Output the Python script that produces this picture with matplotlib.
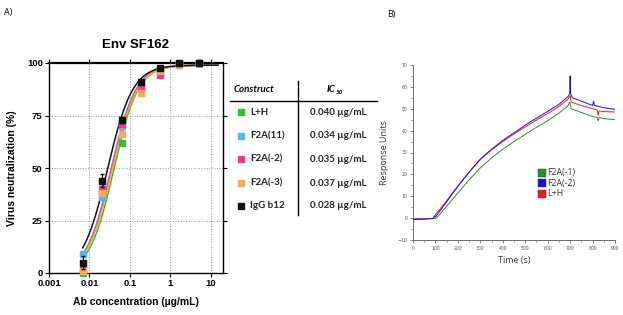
import numpy as np
import matplotlib
matplotlib.use("Agg")
import matplotlib.pyplot as plt
from matplotlib.lines import Line2D

# ---------------- Panel A data ----------------
conc = [0.0069, 0.0206, 0.062, 0.186, 0.56, 1.67, 5.0]
constructs = ["L+H", "F2A(11)", "F2A(-2)", "F2A(-3)", "IgG b12"]
neut_LH = [0, 37, 62, 88, 96, 99.5, 100]
neut_F2A11 = [9, 36, 70, 89, 97, 100, 100]
neut_F2Am2 = [2, 40, 71, 88, 94.5, 99.5, 100]
neut_F2Am3 = [1, 38, 66, 85.5, 96, 99, 100]
neut_IgG = [5, 44, 73, 91, 97.5, 100, 100]
err_IgG = [3, 3, 1.5, 1, 1, 0.5, 0]
ic50_vals = [0.040, 0.034, 0.035, 0.037, 0.028]
ic50_labels = ["0.040 µg/mL", "0.034 µg/mL", "0.035 µg/mL", "0.037 µg/mL", "0.028 µg/mL"]
hill_slopes = [1.45, 1.42, 1.42, 1.42, 1.40]
fit_top = 99.0
fit_bottom = 0.0
colors_A = ["#2fc22f", "#5ab4f0", "#ee3a8c", "#f7aa55", "#111111"]
xticks_A = [0.001, 0.01, 0.1, 1, 10]
xticklabels_A = ["0.001", "0.01", "0.1", "1", "10"]
yticks_A = [0, 25, 50, 75, 100]

# ---------------- Panel B data ----------------
t_F2Am1 = [0, 30, 60, 90, 105, 150, 200, 250, 300, 350, 400, 450, 500, 550, 600, 650,
           690, 698, 705, 750, 800, 820, 825, 830, 850, 900]
ru_F2Am1 = [-0.5, -0.4, -0.3, -0.2, 0, 5.5, 11.5, 17.5, 23, 27.5, 31.5, 35, 38.3, 41.5, 44.5, 48,
            51.3, 53, 50, 48.3, 46.5, 46, 44.5, 46, 45.5, 45]
t_F2Am2 = [0, 30, 60, 90, 95, 100, 150, 200, 250, 300, 350, 400, 450, 500, 550, 600, 650,
           690, 698, 700, 702, 710, 750, 800, 805, 808, 850, 900]
ru_F2Am2 = [-0.7, -0.5, -0.4, -0.2, 1, 0.5, 7.5, 14.5, 21, 27, 31.5, 35.5, 39, 42.5, 45.7, 48.8, 52,
            55.5, 57, 65, 57, 55, 53.5, 51.5, 53.5, 51.5, 50.5, 49.7]
t_LH = [0, 30, 60, 90, 100, 150, 200, 250, 300, 350, 400, 450, 500, 550, 600, 650,
        690, 700, 705, 750, 800, 820, 825, 828, 850, 900]
ru_LH = [-0.3, -0.3, -0.2, -0.1, 1.5, 8, 14.7, 21, 26.8, 31.2, 35, 38.5, 41.7, 44.8, 47.8, 51,
         54.3, 56, 53, 51.5, 50, 49.5, 47, 49, 48.7, 48.5]
series_B = ["F2A(-1)", "F2A(-2)", "L+H"]
colors_B = ["#2e8b2e", "#1414e0", "#e52020"]

W, H = 623, 315
fig = plt.figure(figsize=(W / 100, H / 100), dpi=100)

def fx(x):
    return x / W

def fy(y):
    return 1 - y / H

# ---------------- Panel A ----------------
axA = fig.add_axes([fx(49), fy(273), fx(223) - fx(49), fy(63) - fy(273)])
axA.set_xscale("log")
axA.set_xlim(0.001, 20)
axA.set_ylim(0, 100)
axA.grid(True, which="major", color="#999999", linestyle=":", linewidth=0.7)
axA.set_axisbelow(True)

xs = np.logspace(np.log10(0.0068), np.log10(15), 200)
all_neut = [neut_LH, neut_F2A11, neut_F2Am2, neut_F2Am3, neut_IgG]
for i in range(5):
    yfit = fit_bottom + (fit_top - fit_bottom) / (1 + (ic50_vals[i] / xs) ** hill_slopes[i])
    axA.plot(xs, yfit, color=colors_A[i], lw=1.1, zorder=3, clip_on=False)
for i in range(5):
    if i == 4:
        axA.errorbar(conc, all_neut[i], yerr=err_IgG, fmt="s", color=colors_A[i],
                     ms=4.5, capsize=1.5, elinewidth=0.8, zorder=5, clip_on=False)
    else:
        axA.plot(conc, all_neut[i], "s", color=colors_A[i], ms=4.5, zorder=4, clip_on=False)

axA.set_xticks(xticks_A)
axA.set_xticklabels(xticklabels_A)
axA.minorticks_off()
axA.set_yticks(yticks_A)
axA.tick_params(axis="both", which="major", direction="out", length=3, width=0.8,
                labelsize=6.8, top=True, right=True, pad=1.5)
for lab in axA.get_xticklabels() + axA.get_yticklabels():
    lab.set_fontweight("bold")
    lab.set_family("Liberation Sans")
for s in axA.spines.values():
    s.set_linewidth(1.0)
axA.spines["top"].set_linewidth(1.6)
axA.set_title("Env SF162", fontsize=9.5, fontweight="bold", family="Liberation Sans", pad=11)
axA.set_xlabel("Ab concentration (µg/mL)", fontsize=7.5, fontweight="bold",
               family="Liberation Sans", labelpad=6)
axA.set_ylabel("Virus neutralization (%)", fontsize=7.5, fontweight="bold",
               family="Liberation Sans", labelpad=7)

# ---------------- Table ----------------
fig.add_artist(Line2D([fx(230), fx(377)], [fy(101), fy(101)], transform=fig.transFigure,
                      color="black", lw=1.0))
fig.add_artist(Line2D([fx(298), fx(298)], [fy(81), fy(215)], transform=fig.transFigure,
                      color="black", lw=1.0))
fig.text(fx(234), fy(90), "Construct", fontsize=7, fontweight="bold", style="italic",
         family="Lato", ha="left", va="center")
fig.text(fx(335), fy(90), "IC", fontsize=7, fontweight="bold", style="italic",
         family="Lato", ha="right", va="center")
fig.text(fx(335.5), fy(92.5), "50", fontsize=4.5, fontweight="bold", style="italic",
         family="Lato", ha="left", va="center")
row_y = [112, 136, 159, 183, 206]
for i in range(5):
    fig.add_artist(Line2D([fx(241)], [fy(row_y[i])], transform=fig.transFigure,
                          marker="s", ms=4.2, color=colors_A[i], lw=0))
    fig.text(fx(250), fy(row_y[i]), constructs[i], fontsize=7, fontweight="bold",
             family="Lato", ha="left", va="center", color="#222222")
    fig.text(fx(338), fy(row_y[i]), ic50_labels[i], fontsize=7, fontweight="bold",
             family="Lato", ha="center", va="center", color="#222222")

# ---------------- Panel B ----------------
axB = fig.add_axes([fx(413), fy(240), fx(615) - fx(413), fy(65) - fy(240)])
axB.plot(t_F2Am1, ru_F2Am1, color=colors_B[0], lw=0.7)
axB.plot(t_LH, ru_LH, color=colors_B[2], lw=0.7)
axB.plot(t_F2Am2, ru_F2Am2, color=colors_B[1], lw=0.7)
axB.set_xlim(0, 900)
axB.set_ylim(-10, 70)
axB.set_xticks(range(0, 901, 100))
axB.set_yticks(range(-10, 71, 10))
axB.set_xticks(range(50, 900, 100), minor=True)
axB.set_yticks(range(-5, 70, 10), minor=True)
axB.tick_params(axis="both", which="major", direction="out", length=2.5, width=0.5,
                labelsize=3.3, colors="#555555", pad=1.5)
axB.tick_params(axis="both", which="minor", direction="out", length=1.5, width=0.4,
                colors="#555555")
for lab in axB.get_xticklabels() + axB.get_yticklabels():
    lab.set_color("#555555")
axB.spines["top"].set_visible(False)
axB.spines["right"].set_visible(False)
for s in ["left", "bottom"]:
    axB.spines[s].set_color("#555555")
    axB.spines[s].set_linewidth(0.6)
axB.set_xlabel("Time (s)", fontsize=6.5, family="Open Sans", color="#333333", labelpad=4)
axB.set_ylabel("Response Units", fontsize=6.5, family="Open Sans", color="#333333", labelpad=6)

leg_y = [172.5, 183, 193.5]
leg_colors = [colors_B[0], colors_B[1], colors_B[2]]
for i in range(3):
    fig.add_artist(Line2D([fx(541.5)], [fy(leg_y[i])], transform=fig.transFigure,
                          marker="s", ms=5.5, color=leg_colors[i], mec="#333333", mew=0.3, lw=0))
    fig.text(fx(547), fy(leg_y[i]), series_B[i], fontsize=6.3, family="Open Sans",
             ha="left", va="center", color="#333333")

fig.text(fx(4), fy(12), "A)", fontsize=6.5, family="Open Sans", va="center", ha="left")
fig.text(fx(387), fy(15), "B)", fontsize=6.5, family="Open Sans", va="center", ha="left")

fig.savefig("out.png", dpi=100)
